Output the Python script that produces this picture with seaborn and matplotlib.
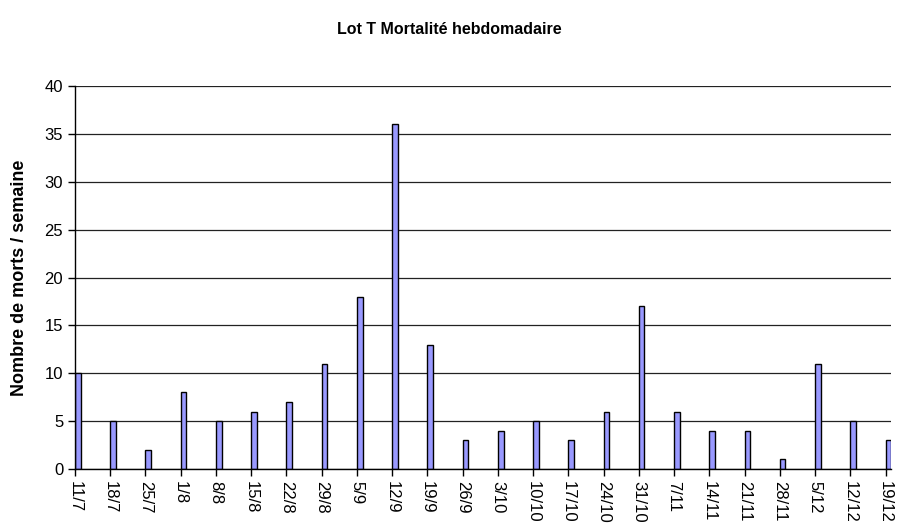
import matplotlib
matplotlib.use("Agg")
import matplotlib.pyplot as plt
import seaborn as sns
import pandas as pd

dates = ["11/7", "18/7", "25/7", "1/8", "8/8", "15/8", "22/8", "29/8", "5/9", "12/9",
         "19/9", "26/9", "3/10", "10/10", "17/10", "24/10", "31/10", "7/11", "14/11",
         "21/11", "28/11", "5/12", "12/12", "19/12"]
morts = [10, 5, 2, 8, 5, 6, 7, 11, 18, 36, 13, 3, 4, 5, 3, 6, 17, 6, 4, 4, 1, 11, 5, 3]

df = pd.DataFrame({"semaine": dates, "morts": morts})

sns.set_style("white")
plt.rcParams["font.family"] = ["Liberation Sans", "DejaVu Sans"]
plt.rcParams.update({"text.color": "black", "axes.labelcolor": "black",
                     "xtick.color": "black", "ytick.color": "black"})

fig = plt.figure(figsize=(8.98, 5.30), dpi=100)
ax = fig.add_axes([0.0835, 0.1151, 0.9085, 0.7226])

w = 0.16
sns.barplot(data=df, x="semaine", y="morts", color="#9999FF", saturation=1,
            width=w, edgecolor="black", linewidth=1, ax=ax)
# bars start at the tick, like Excel
for p in ax.patches:
    p.set_x(p.get_x() + w / 2)

ax.set_xlim(0, len(dates) - 1 + 0.15)
ax.set_ylim(0, 40)
ax.set_yticks(range(0, 41, 5))
ax.yaxis.grid(True, color="#222222", linewidth=0.9)
ax.set_axisbelow(True)
for s in ["top", "right"]:
    ax.spines[s].set_visible(False)
for s in ["left", "bottom"]:
    ax.spines[s].set_color("black")
    ax.spines[s].set_linewidth(1)

ax.tick_params(axis="both", direction="out", length=5, width=1, color="black",
               labelcolor="black", labelsize=12, bottom=True, left=True)
ax.tick_params(axis="x", pad=4)
ax.set_xticks(range(len(dates)))
ax.set_xticklabels(dates, rotation=270, va="top", ha="center")

ax.set_xlabel("")
ax.set_ylabel("Nombre de morts / semaine", fontsize=13, fontweight="bold", color="black")
ax.yaxis.set_label_coords(-0.058, 0.5)
fig.text(0.5, 0.945, "Lot T Mortalité hebdomadaire", fontsize=11.5,
         fontweight="bold", ha="center", va="center", color="black")

fig.savefig("out.png", dpi=100)
